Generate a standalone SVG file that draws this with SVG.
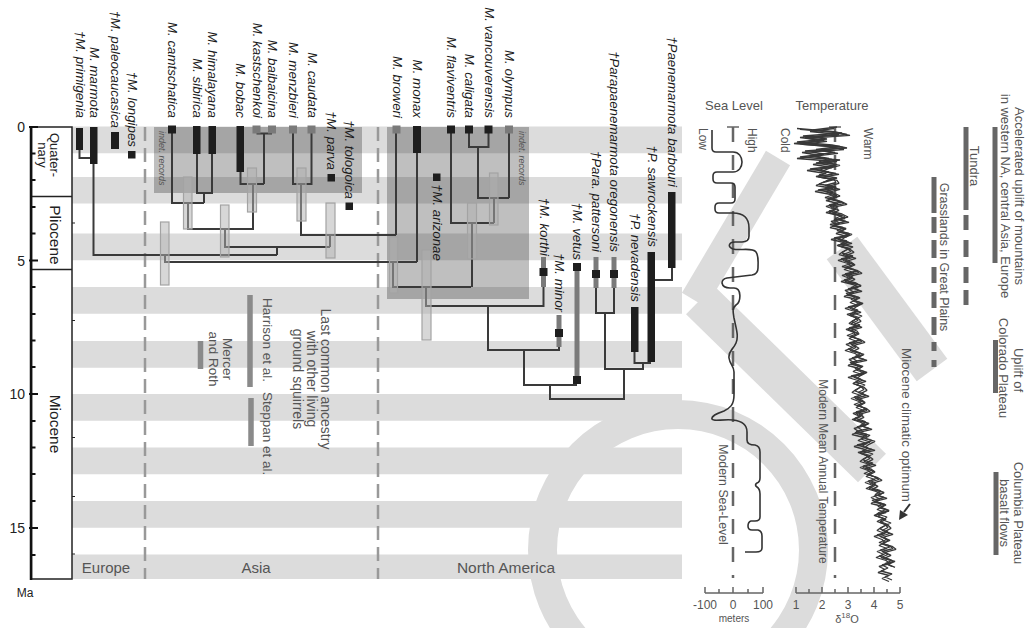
<svg xmlns="http://www.w3.org/2000/svg" xmlns:xlink="http://www.w3.org/1999/xlink" width="1029" height="628" viewBox="0 0 1029 628">
<defs>
<style>
.sp{font-family:"Liberation Sans",Arial,sans-serif;font-style:italic;font-size:13.3px;fill:#1a1a1a}
.lb{font-family:"Liberation Sans",Arial,sans-serif;fill:#555}
.ep{font-family:"Liberation Sans",Arial,sans-serif;fill:#222}
.br{stroke:#3a3a3a;stroke-width:2;fill:none}
.ci{fill:#b0b0b0;fill-opacity:.5;stroke:#a3a3a3;stroke-width:1.2}
.bk{fill:#1e1e1e}
.gs{fill:#7a7a7a}
.rg{stroke:#7a7a7a;stroke-width:5}
.ev{stroke:#666;stroke-width:5}
.ref{stroke:#8a8a8a;stroke-width:5.5}
.band{fill:#dcdcdc}
.wm{fill:#dcdcdc;stroke:none}
.wms{stroke:#dcdcdc;fill:none}
.dash{stroke:#999;stroke-width:2.5;stroke-dasharray:14 7;fill:none}
.dash2{stroke:#666;stroke-width:2.5;stroke-dasharray:15 13;fill:none}
.ax{stroke:#666;stroke-width:1.5;fill:none}
.tc{fill:none;stroke:#383838;stroke-width:1.3;stroke-linejoin:bevel}
</style>
<polyline id="t1" class="tc" points="837,127 813,130 842,133 803,136 827,139 797,142 832,145 847,148 805,151 824,154 800,157 840,160 816,163 835,166 810,169 829,172 819,175 837,178 826,181 819,184 836,187 818,190 834,193 840,196 829,199 841,202 829,205 838,208 829,211 842,214 848,217 834,220 840,223 833,226 846,229 839,232 850,235 834,238 847,241 841,244 853,247 846,250 842,253 853,256 841,259 851,262 855,265 847,268 857,271 845,274 853,277 844,280 856,283 861,286 848,289 854,292 847,295 860,298 853,301 861,304 848,307 858,310 853,313 862,316 856,319 852,322 860,325 849,328 857,331 859,334 852,337 860,340 849,343 856,346 848,349 858,352 863,355 852,358 857,361 851,364 862,367 856,370 865,373 851,376 861,379 856,382 865,385 859,388 855,391 864,394 854,397 862,400 865,403 859,406 867,409 856,412 863,415 855,418 864,421 868,424 857,427 862,430 855,433 867,436 861,439 870,442 857,445 868,448 863,451 873,454 867,457 863,460 873,463 863,466 871,469 875,472 869,475 878,478 868,481 876,484 869,487 879,490 884,493 874,496 880,499 874,502 886,505 880,508 889,511 877,514 887,517 883,520 891,523 884,526 880,529 888,532 877,535 885,538 888,541 882,544 890,547 880,550 887,553 879,556 889,559 893,562 882,565 888,568 881,571 892,574 885,577 892,580"/>
<polyline id="t2" class="tc" points="797,128.5 832,131.5 847,134.5 805,137.5 824,140.5 800,143.5 840,146.5 816,149.5 835,152.5 810,155.5 829,158.5 819,161.5 837,164.5 826,167.5 819,170.5 836,173.5 818,176.5 834,179.5 836,182.5 825,185.5 837,188.5 825,191.5 834,194.5 825,197.5 838,200.5 844,203.5 830,206.5 836,209.5 829,212.5 842,215.5 835,218.5 846,221.5 830,224.5 843,227.5 837,230.5 849,233.5 842,236.5 838,239.5 849,242.5 837,245.5 847,248.5 851,251.5 843,254.5 853,257.5 843,260.5 851,263.5 842,266.5 854,269.5 859,272.5 846,275.5 852,278.5 845,281.5 858,284.5 851,287.5 859,290.5 846,293.5 856,296.5 851,299.5 860,302.5 854,305.5 850,308.5 858,311.5 847,314.5 855,317.5 858,320.5 851,323.5 859,326.5 848,329.5 855,332.5 847,335.5 857,338.5 862,341.5 851,344.5 856,347.5 850,350.5 861,353.5 855,356.5 864,359.5 850,362.5 860,365.5 855,368.5 864,371.5 858,374.5 854,377.5 863,380.5 853,383.5 861,386.5 864,389.5 858,392.5 866,395.5 855,398.5 862,401.5 854,404.5 863,407.5 867,410.5 856,413.5 861,416.5 854,419.5 866,422.5 860,425.5 869,428.5 856,431.5 867,434.5 862,437.5 872,440.5 866,443.5 862,446.5 872,449.5 858,452.5 866,455.5 870,458.5 864,461.5 873,464.5 863,467.5 871,470.5 864,473.5 874,476.5 879,479.5 869,482.5 875,485.5 869,488.5 881,491.5 875,494.5 884,497.5 872,500.5 882,503.5 878,506.5 886,509.5 879,512.5 875,515.5 883,518.5 877,521.5 885,524.5 888,527.5 882,530.5 890,533.5 880,536.5 887,539.5 879,542.5 889,545.5 893,548.5 882,551.5 888,554.5 881,557.5 892,560.5 885,563.5 892,566.5"/>
</defs>
<rect width="1029" height="628" fill="#fff"/>

<g id="watermark">
<path class="wm" fill-rule="evenodd" d="M828,550 A150,150 0 1 0 528,550 A150,150 0 1 0 828,550 Z M799,550 A121,121 0 1 1 557,550 A121,121 0 1 1 799,550 Z"/>
<line class="wms" x1="778" y1="158" x2="694" y2="300" stroke-width="28"/>
<line class="wms" x1="700" y1="300" x2="872" y2="468" stroke-width="40"/>
<line class="wms" x1="842" y1="248" x2="932" y2="370" stroke-width="38"/>
</g>

<g id="time-bands">
<rect class="band" x="72" y="126.5" width="610" height="26.75"/>
<rect class="band" x="72" y="177" width="610" height="26.5"/>
<rect class="band" x="72" y="233.5" width="610" height="26.75"/>
<rect class="band" x="72" y="287" width="610" height="26.75"/>
<rect class="band" x="72" y="341" width="610" height="26.75"/>
<rect class="band" x="72" y="394" width="610" height="26.75"/>
<rect class="band" x="72" y="447.5" width="610" height="26.75"/>
<rect class="band" x="72" y="501" width="610" height="26.75"/>
<rect class="band" x="72" y="554.5" width="610" height="24.5"/>
</g>

<g id="indet-records">
<rect x="154" y="127" width="208" height="66" fill="#000" fill-opacity=".25"/>
<rect x="387" y="127" width="142" height="172" fill="#000" fill-opacity=".25"/>
<text class="lb" font-size="9" font-style="italic" fill="#888" transform="translate(159,131) rotate(90)">indet. records</text>
<text class="lb" font-size="9" font-style="italic" fill="#888" transform="translate(519,131) rotate(90)">indet. records</text>
</g>

<g id="region-dividers">
<line class="dash" x1="145" y1="127" x2="145" y2="579"/>
<line class="dash" x1="378" y1="127" x2="378" y2="579"/>
<text class="lb" font-size="15" fill="#888" x="106" y="573" text-anchor="middle">Europe</text>
<text class="lb" font-size="15" fill="#888" x="256" y="573" text-anchor="middle">Asia</text>
<text class="lb" font-size="15.5" fill="#888" x="506" y="573" text-anchor="middle">North America</text>
</g>

<g id="time-axis">
<rect x="31.5" y="127" width="40.5" height="452" fill="#fff" stroke="#222" stroke-width="1.5"/>
<line x1="31.5" y1="196.5" x2="72" y2="196.5" stroke="#222" stroke-width="1.5"/>
<line x1="31.5" y1="269.5" x2="72" y2="269.5" stroke="#222" stroke-width="1.5"/>
<line x1="31" y1="126" x2="31" y2="580" stroke="#111" stroke-width="2.5"/>
<path stroke="#111" stroke-width="2" d="M29,127H38M29,260.5H38M29,394H38M29,528H38M31,153.5H35.5M31,180H35.5M31,207H35.5M31,233.5H35.5M31,287H35.5M31,314H35.5M31,340.5H35.5M31,367H35.5M31,421H35.5M31,447.5H35.5M31,474H35.5M31,501H35.5M31,555H35.5"/>
<path stroke="#222" stroke-width="1.2" d="M72,223H75M72,320.5H75M72,437.5H75M72,496.5H75M72,554H75"/>
<g class="ep" font-size="14" text-anchor="end">
<text x="25" y="132">0</text>
<text x="25" y="266">5</text>
<text x="25" y="399">10</text>
<text x="25" y="533">15</text>
</g>
<text class="ep" font-size="12" x="25" y="597" text-anchor="middle">Ma</text>
<text class="ep" font-size="13" transform="translate(50,155) rotate(90)" text-anchor="middle">Quater-</text>
<text class="ep" font-size="13" transform="translate(38,155) rotate(90)" text-anchor="middle">nary</text>
<text class="ep" font-size="15.5" transform="translate(50,235) rotate(90)" text-anchor="middle">Pliocene</text>
<text class="ep" font-size="15.5" transform="translate(50,424) rotate(90)" text-anchor="middle">Miocene</text>
</g>

<g id="connectors">
<path class="br" d="M79.5,150V158H90"/>
<path class="br" d="M93.5,164V255H277"/>
<path class="br" d="M172,133V203H204"/>
<path class="br" d="M197,154V193H212V154"/>
<path class="br" d="M204,193V203"/>
<path class="br" d="M188,203V229H253V184"/>
<path class="br" d="M240.5,172V184H264"/>
<path class="br" d="M256.5,133.5H272M264,133.5V184"/>
<path class="br" d="M225,229V247H330"/>
<path class="br" d="M293,133V184H311.5V133"/>
<path class="br" d="M301,184V235H396"/>
<path class="br" d="M396,133V235"/>
<path class="br" d="M330,235V247"/>
<path class="br" d="M277,247V255"/>
<path class="br" d="M165,255V262H417"/>
<path class="br" d="M417,153V262"/>
<path class="br" d="M393,262V287H471"/>
<path class="br" d="M451,133V223H494"/>
<path class="br" d="M469,133V147H488.5V133"/>
<path class="br" d="M478,147V198H509"/>
<path class="br" d="M509,133V198"/>
<path class="br" d="M494,198V223"/>
<path class="br" d="M472,223V287"/>
<path class="br" d="M426,287V306H543.5V287"/>
<path class="br" d="M488,306V350H559V347"/>
<path class="br" d="M524,350V385H577"/>
<path class="br" d="M550,385V399H624V369"/>
<path class="br" d="M596,288V313H614V288"/>
<path class="br" d="M605,313V369H643V363"/>
<path class="br" d="M634.5,352V363H651"/>
<path class="br" d="M672,268V280H655"/>
</g>

<g id="node-uncertainty">
<rect class="ci" x="183.5" y="177" width="8.5" height="52"/>
<rect class="ci" x="247.5" y="168" width="9" height="44"/>
<rect class="ci" x="220.5" y="205" width="8.5" height="52"/>
<rect class="ci" x="297" y="168" width="9" height="53"/>
<rect class="ci" x="326" y="203" width="9" height="55"/>
<rect class="ci" x="160.5" y="222" width="8.5" height="63"/>
<rect class="ci" x="389.5" y="237" width="8" height="56"/>
<rect class="ci" x="467.5" y="203" width="9" height="56"/>
<rect class="ci" x="489.5" y="173" width="8.5" height="52"/>
<rect class="ci" x="422" y="250" width="9" height="90"/>
</g>

<g id="n-primigenia"><rect class="bk" x="76" y="128" width="7" height="22"/><text class="sp" transform="translate(76,118) rotate(90)" text-anchor="end">†M. primigenia</text></g>
<g id="n-marmota"><rect class="bk" x="90" y="127" width="7.5" height="37"/><text class="sp" transform="translate(90,118) rotate(90)" text-anchor="end">M. marmota</text></g>
<g id="n-paleocaucasica"><rect class="bk" x="111" y="132" width="8" height="17"/><text class="sp" transform="translate(111,128) rotate(90)" text-anchor="end">†M. paleocaucasica</text></g>
<g id="n-longipes"><rect class="bk" x="128" y="151" width="7.5" height="7.5"/><text class="sp" transform="translate(128,147) rotate(90)" text-anchor="end">†M. longipes</text></g>
<g id="n-camtschatica"><rect class="bk" x="168" y="125.5" width="8" height="8"/><text class="sp" transform="translate(168,118) rotate(90)" text-anchor="end">M. camtschatica</text></g>
<g id="n-sibirica"><rect class="bk" x="193" y="126" width="7.5" height="28"/><text class="sp" transform="translate(193,118) rotate(90)" text-anchor="end">M. sibirica</text></g>
<g id="n-himalayana"><rect class="bk" x="208.5" y="126" width="7.5" height="28"/><text class="sp" transform="translate(208,118) rotate(90)" text-anchor="end">M. himalayana</text></g>
<g id="n-bobac"><rect class="bk" x="236.5" y="126" width="7.5" height="46"/><text class="sp" transform="translate(236,118) rotate(90)" text-anchor="end">M. bobac</text></g>
<g id="n-kastschenkoi"><rect class="gs" x="252.5" y="125.5" width="8" height="8"/><text class="sp" transform="translate(252.5,118) rotate(90)" text-anchor="end">M. kastschenkoi</text></g>
<g id="n-baibaicina"><rect class="gs" x="268" y="125.5" width="8" height="8"/><text class="sp" transform="translate(268,118) rotate(90)" text-anchor="end">M. baibaicina</text></g>
<g id="n-menzbieri"><rect class="gs" x="289" y="125.5" width="8" height="8"/><text class="sp" transform="translate(289,118) rotate(90)" text-anchor="end">M. menzbieri</text></g>
<g id="n-caudata"><rect class="gs" x="307.5" y="125.5" width="8" height="8"/><text class="sp" transform="translate(307.5,118) rotate(90)" text-anchor="end">M. caudata</text></g>
<g id="n-parva"><rect class="bk" x="327.5" y="174" width="7.5" height="7.5"/><text class="sp" transform="translate(327,170) rotate(90)" text-anchor="end">†M. parva</text></g>
<g id="n-tologoica"><rect class="bk" x="345.5" y="202.5" width="7.5" height="7.5"/><text class="sp" transform="translate(345,199) rotate(90)" text-anchor="end">†M. tologoica</text></g>
<g id="n-broweri"><rect class="gs" x="392.5" y="125.5" width="8" height="8"/><text class="sp" transform="translate(393,118) rotate(90)" text-anchor="end">M. broweri</text></g>
<g id="n-monax"><rect class="bk" x="413" y="126" width="8" height="27"/><text class="sp" transform="translate(413,118) rotate(90)" text-anchor="end">M. monax</text></g>
<g id="n-flaviventris"><rect class="bk" x="447" y="125.5" width="8" height="8"/><text class="sp" transform="translate(447,118) rotate(90)" text-anchor="end">M. flaviventris</text></g>
<g id="n-caligata"><rect class="bk" x="465" y="125.5" width="8" height="8"/><text class="sp" transform="translate(465,118) rotate(90)" text-anchor="end">M. caligata</text></g>
<g id="n-vancouverensis"><rect class="bk" x="484.5" y="125.5" width="8" height="8"/><text class="sp" transform="translate(484.5,118) rotate(90)" text-anchor="end">M. vancouverensis</text></g>
<g id="n-olympus"><rect class="gs" x="505" y="125.5" width="8" height="8"/><text class="sp" transform="translate(505,118) rotate(90)" text-anchor="end">M. olympus</text></g>
<g id="n-arizonae"><rect class="bk" x="433" y="173.5" width="7.5" height="7.5"/><text class="sp" transform="translate(433,184) rotate(90)">†M. arizonae</text></g>
<g id="n-korthi"><line class="rg" x1="543.5" y1="257" x2="543.5" y2="287"/><rect class="bk" x="539.5" y="268" width="8" height="8"/><text class="sp" transform="translate(539.5,256) rotate(90)" text-anchor="end">†M. korthi</text></g>
<g id="n-minor"><line class="rg" x1="559" y1="315" x2="559" y2="347"/><rect class="bk" x="555" y="329" width="8" height="8"/><text class="sp" transform="translate(555,312) rotate(90)" text-anchor="end">†M. minor</text></g>
<g id="n-vetus"><line class="rg" x1="577" y1="267" x2="577" y2="380"/><rect class="bk" x="573" y="263" width="8" height="8"/><rect class="bk" x="573" y="376" width="8" height="8"/><text class="sp" transform="translate(573,260) rotate(90)" text-anchor="end">†M. vetus</text></g>
<g id="n-pattersoni"><line class="rg" x1="596" y1="257" x2="596" y2="288"/><rect class="bk" x="592" y="270" width="8" height="8"/><text class="sp" transform="translate(592,252) rotate(90)" text-anchor="end">†Para. pattersoni</text></g>
<g id="n-oregonensis"><line class="rg" x1="614" y1="257" x2="614" y2="288"/><rect class="bk" x="610" y="270" width="8" height="8"/><text class="sp" transform="translate(610,252) rotate(90)" text-anchor="end">†Parapaenemarmota oregonensis</text></g>
<g id="n-nevadensis"><rect class="bk" x="631" y="307" width="7.5" height="45"/><text class="sp" transform="translate(631,302) rotate(90)" text-anchor="end">†P. nevadensis</text></g>
<g id="n-sawrockensis"><rect class="bk" x="647.5" y="252" width="7.5" height="110"/><text class="sp" transform="translate(647.5,247) rotate(90)" text-anchor="end">†P. sawrockensis</text></g>
<g id="n-barbouri"><rect class="bk" x="668" y="192" width="7.5" height="76"/><text class="sp" transform="translate(667.5,187) rotate(90)" text-anchor="end">†Paenemarmota barbouri</text></g>

<g id="divergence-estimates">
<line class="ref" x1="250" y1="295" x2="250" y2="387"/>
<line class="ref" x1="251" y1="398" x2="251" y2="446"/>
<line class="ref" x1="200.5" y1="341" x2="200.5" y2="369"/>
<g class="lb" font-size="13.5">
<text transform="translate(263,298) rotate(90)">Harrison et al.</text>
<text transform="translate(263,392) rotate(90)">Steppan et al.</text>
<text transform="translate(223,359) rotate(90)" text-anchor="middle">Mercer</text>
<text transform="translate(209,359) rotate(90)" text-anchor="middle">and Roth</text>
<text transform="translate(321,379) rotate(90)" text-anchor="middle" font-size="14">Last common ancestry</text>
<text transform="translate(307,379) rotate(90)" text-anchor="middle" font-size="14">with other living</text>
<text transform="translate(293,379) rotate(90)" text-anchor="middle" font-size="14">ground squirrels</text>
</g>
</g>

<g id="sea-level">
<text class="lb" font-size="13" x="734" y="110" text-anchor="middle">Sea Level</text>
<text class="lb" font-size="12" transform="translate(699,128) rotate(90)">Low</text>
<text class="lb" font-size="12" transform="translate(748,128) rotate(90)">High</text>
<line class="dash2" x1="733" y1="127" x2="733" y2="578"/>
<line class="ax" x1="727" y1="127" x2="739" y2="127" stroke-width="2"/>
<path fill="none" stroke="#333" stroke-width="1.6" d="M712,130V148Q712,152 716,152H733C745,152 745,172 733,172H717Q713,172 713,176V179Q713,183 717,183H731Q735,183 735,187V199Q735,203 731,203H719Q715,203 715,207V209Q715,213 719,213H733C745,213 749,220 749,228V236Q749,242 742,242H735C729,242 727,247 733,249C740,251 752,247 756,252C759,256 758,262 758,268Q758,274 752,275L727,278Q722,279 722,283Q723,288 730,288H734C742,288 741,302 736,305C732,308 733,312 734,318C736,328 739,336 736,343C733,350 728,351 729,358C730,365 734,366 734,372V395C734,405 730,408 724,411C716,414 711,416 712,419C713,422 722,419 733,420C742,421 747,425 747,432V440Q747,445 755,445Q760,446 760,452V478Q760,482 757,483Q754,485 757,487Q760,489 760,494V517Q760,521 755,521H751Q748,522 748,526Q748,530 752,530H758Q762,531 762,536V548Q762,552 756,552H745"/>
<text class="lb" font-size="12.3" transform="translate(719,494.5) rotate(90)" text-anchor="middle">Modern Sea-Level</text>
<path class="ax" d="M705,593H763M705,593V587M719,593V589M733,593V587M748,593V589M763,593V587"/>
<g class="lb" font-size="12" text-anchor="middle">
<text x="705" y="609">-100</text>
<text x="733" y="609">0</text>
<text x="763" y="609">100</text>
</g>
<text class="lb" font-size="10" x="734" y="622" text-anchor="middle">meters</text>
</g>

<g id="temperature">
<text class="lb" font-size="13" x="832" y="110" text-anchor="middle">Temperature</text>
<text class="lb" font-size="12" transform="translate(781,128) rotate(90)">Cold</text>
<text class="lb" font-size="12" transform="translate(864,128) rotate(90)">Warm</text>
<line class="dash2" x1="835" y1="127" x2="835" y2="578"/>
<line class="ax" x1="829" y1="127" x2="841" y2="127" stroke-width="2"/>
<use xlink:href="#t1" href="#t1"/>
<use xlink:href="#t2" href="#t2"/>
<use xlink:href="#t1" href="#t1" transform="translate(-3,1.5)"/>
<use xlink:href="#t2" href="#t2" transform="translate(3,0.8)"/>
<text class="lb" font-size="12" transform="translate(818.5,471.5) rotate(90)" text-anchor="middle">Modern Mean Annual Temperature</text>
<text class="lb" font-size="13.4" transform="translate(902,425) rotate(90)" text-anchor="middle">Miocene climatic optimum</text>
<path stroke="#333" stroke-width="2" d="M910,504L904,512"/>
<path fill="#333" d="M899,520L900,510L908,515Z"/>
<path class="ax" d="M796,593H900M796,593V587M809,593V589M822,593V587M835,593V589M848,593V587M861,593V589M874,593V587M887,593V589M900,593V587"/>
<g class="lb" font-size="12" text-anchor="middle">
<text x="796" y="609">1</text>
<text x="822" y="609">2</text>
<text x="848" y="609">3</text>
<text x="874" y="609">4</text>
<text x="900" y="609">5</text>
</g>
<text class="lb" font-size="11" x="847" y="623" text-anchor="middle">δ<tspan font-size="8" dy="-5">18</tspan><tspan dy="5">O</tspan></text>
</g>

<g id="events">
<line class="ev" x1="995" y1="127" x2="995" y2="263"/>
<text class="lb" font-size="13" transform="translate(1015,196) rotate(90)" text-anchor="middle">Accelerated uplift of mountains</text>
<text class="lb" font-size="13" transform="translate(1001,196) rotate(90)" text-anchor="middle">in western NA, central Asia, Europe</text>
<line class="ev" x1="966" y1="127" x2="966" y2="210"/>
<path class="ev" d="M966,215V230M966,240V257M966,267V283M966,290V305"/>
<text class="lb" font-size="13" transform="translate(970,166) rotate(90)" text-anchor="middle">Tundra</text>
<line class="ev" x1="934" y1="177" x2="934" y2="213"/>
<path class="ev" d="M934,217V233M934,240V258M934,267V283M934,292V308M934,317V335M934,342V351M934,360V367"/>
<text class="lb" font-size="12.5" transform="translate(940,257) rotate(90)" text-anchor="middle">Grasslands in Great Plains</text>
<line class="ev" x1="995.5" y1="340" x2="995.5" y2="393"/>
<text class="lb" font-size="13" transform="translate(1014,370) rotate(90)" text-anchor="middle">Uplift of</text>
<text class="lb" font-size="13" transform="translate(999,368) rotate(90)" text-anchor="middle">Colorado Plateau</text>
<line class="ev" x1="996" y1="472" x2="996" y2="555"/>
<text class="lb" font-size="13" transform="translate(1014,513) rotate(90)" text-anchor="middle">Columbia Plateau</text>
<text class="lb" font-size="13" transform="translate(1000,513) rotate(90)" text-anchor="middle">basalt flows</text>
</g>
</svg>
